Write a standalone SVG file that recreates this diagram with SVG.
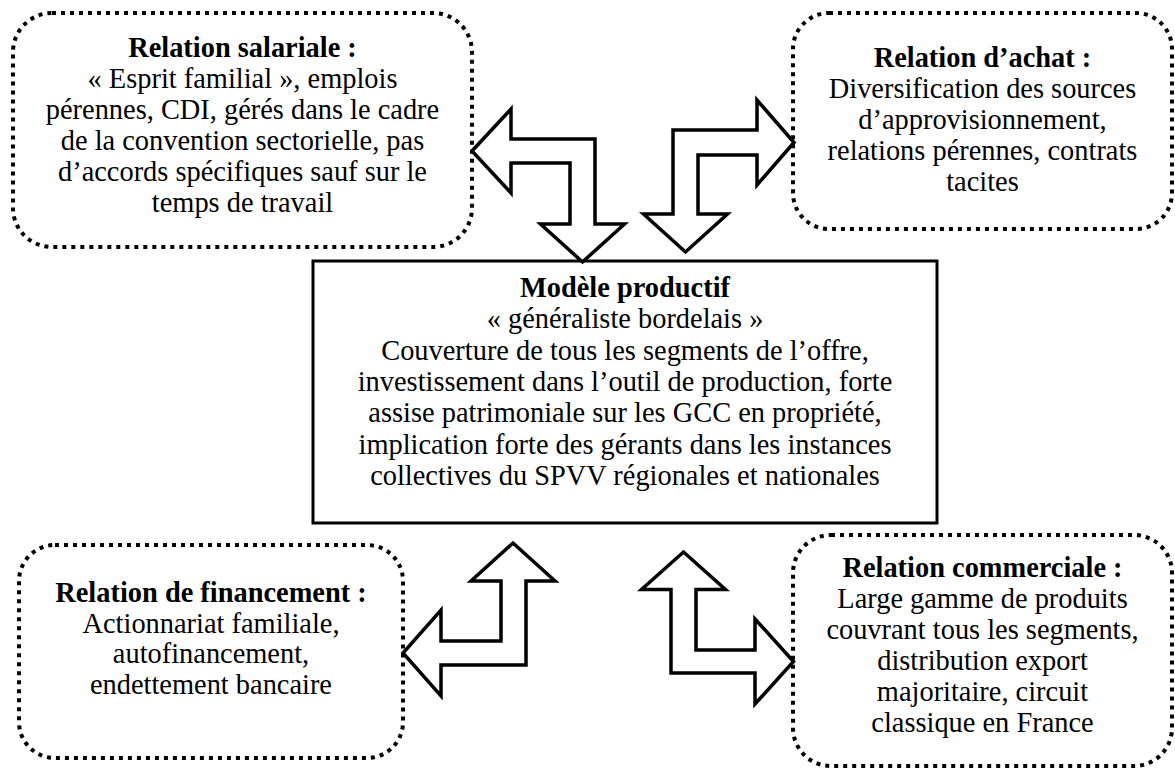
<svg xmlns="http://www.w3.org/2000/svg" width="1175" height="769" viewBox="0 0 1175 769">
<style>
.dot{fill:#fff;stroke:#000;stroke-width:4;stroke-dasharray:4 5}
.main{fill:#fff;stroke:#000;stroke-width:3}
.arr{fill:#fff;stroke:#000;stroke-width:3.5;stroke-linejoin:miter}
text{font-family:"Liberation Serif","Times New Roman",serif;font-size:28.4px;fill:#000;text-anchor:middle}
.b{font-weight:bold}
</style>
<rect width="1175" height="769" fill="#fff"/>
<g id="salariale">
<rect class="dot" x="13" y="13" width="459" height="234" rx="39"/>
<text x="242.5" y="57" class="b">Relation salariale :</text>
<text x="242.5" y="88">« Esprit familial », emplois</text>
<text x="242.5" y="119">pérennes, CDI, gérés dans le cadre</text>
<text x="242.5" y="150">de la convention sectorielle, pas</text>
<text x="242.5" y="181">d’accords spécifiques sauf sur le</text>
<text x="242.5" y="212">temps de travail</text>
</g>
<g id="achat">
<rect class="dot" x="793" y="13" width="379" height="216" rx="36"/>
<text x="982.5" y="67" class="b">Relation d’achat :</text>
<text x="982.5" y="98">Diversification des sources</text>
<text x="982.5" y="129">d’approvisionnement,</text>
<text x="982.5" y="160">relations pérennes, contrats</text>
<text x="982.5" y="191">tacites</text>
</g>
<g id="financement">
<rect class="dot" x="19" y="545" width="384" height="213" rx="36"/>
<text x="211" y="602" class="b">Relation de financement :</text>
<text x="211" y="632.5">Actionnariat familiale,</text>
<text x="211" y="663">autofinancement,</text>
<text x="211" y="693.5">endettement bancaire</text>
</g>
<g id="commerciale">
<rect class="dot" x="793" y="535" width="379" height="231" rx="38"/>
<text x="982.5" y="577" class="b">Relation commerciale :</text>
<text x="982.5" y="608">Large gamme de produits</text>
<text x="982.5" y="639">couvrant tous les segments,</text>
<text x="982.5" y="670">distribution export</text>
<text x="982.5" y="701">majoritaire, circuit</text>
<text x="982.5" y="732">classique en France</text>
</g>
<g id="modele">
<rect class="main" x="313" y="261" width="624" height="262"/>
<text x="625" y="297" class="b">Modèle productif</text>
<text x="625" y="328">« généraliste bordelais »</text>
<text x="625" y="359.5">Couverture de tous les segments de l’offre,</text>
<text x="625" y="391">investissement dans l’outil de production, forte</text>
<text x="625" y="422">assise patrimoniale sur les GCC en propriété,</text>
<text x="625" y="453.5">implication forte des gérants dans les instances</text>
<text x="625" y="485">collectives du SPVV régionales et nationales</text>
</g>
<g id="connectors">
<polygon class="arr" points="472,151 511,109 511,139 595,139 595,224 624.5,224 582.5,262 540.5,224 570,224 570,163 511,163 511,193"/>
<polygon class="arr" points="794,142.5 757,100 757,130 673,130 673,214 643.5,214 685.5,252 727.5,214 698,214 698,155 757,155 757,185"/>
<polygon class="arr" points="513,543 555,581 526,581 526,665 441,665 441,696 403,653 441,610 441,641 501,641 501,581 471,581"/>
<polygon class="arr" points="683.5,552 725.5,589.5 696,589.5 696,650 755,650 755,619 793.5,661.5 755,704 755,673 671,673 671,589.5 641.5,589.5"/>
</g>
</svg>
